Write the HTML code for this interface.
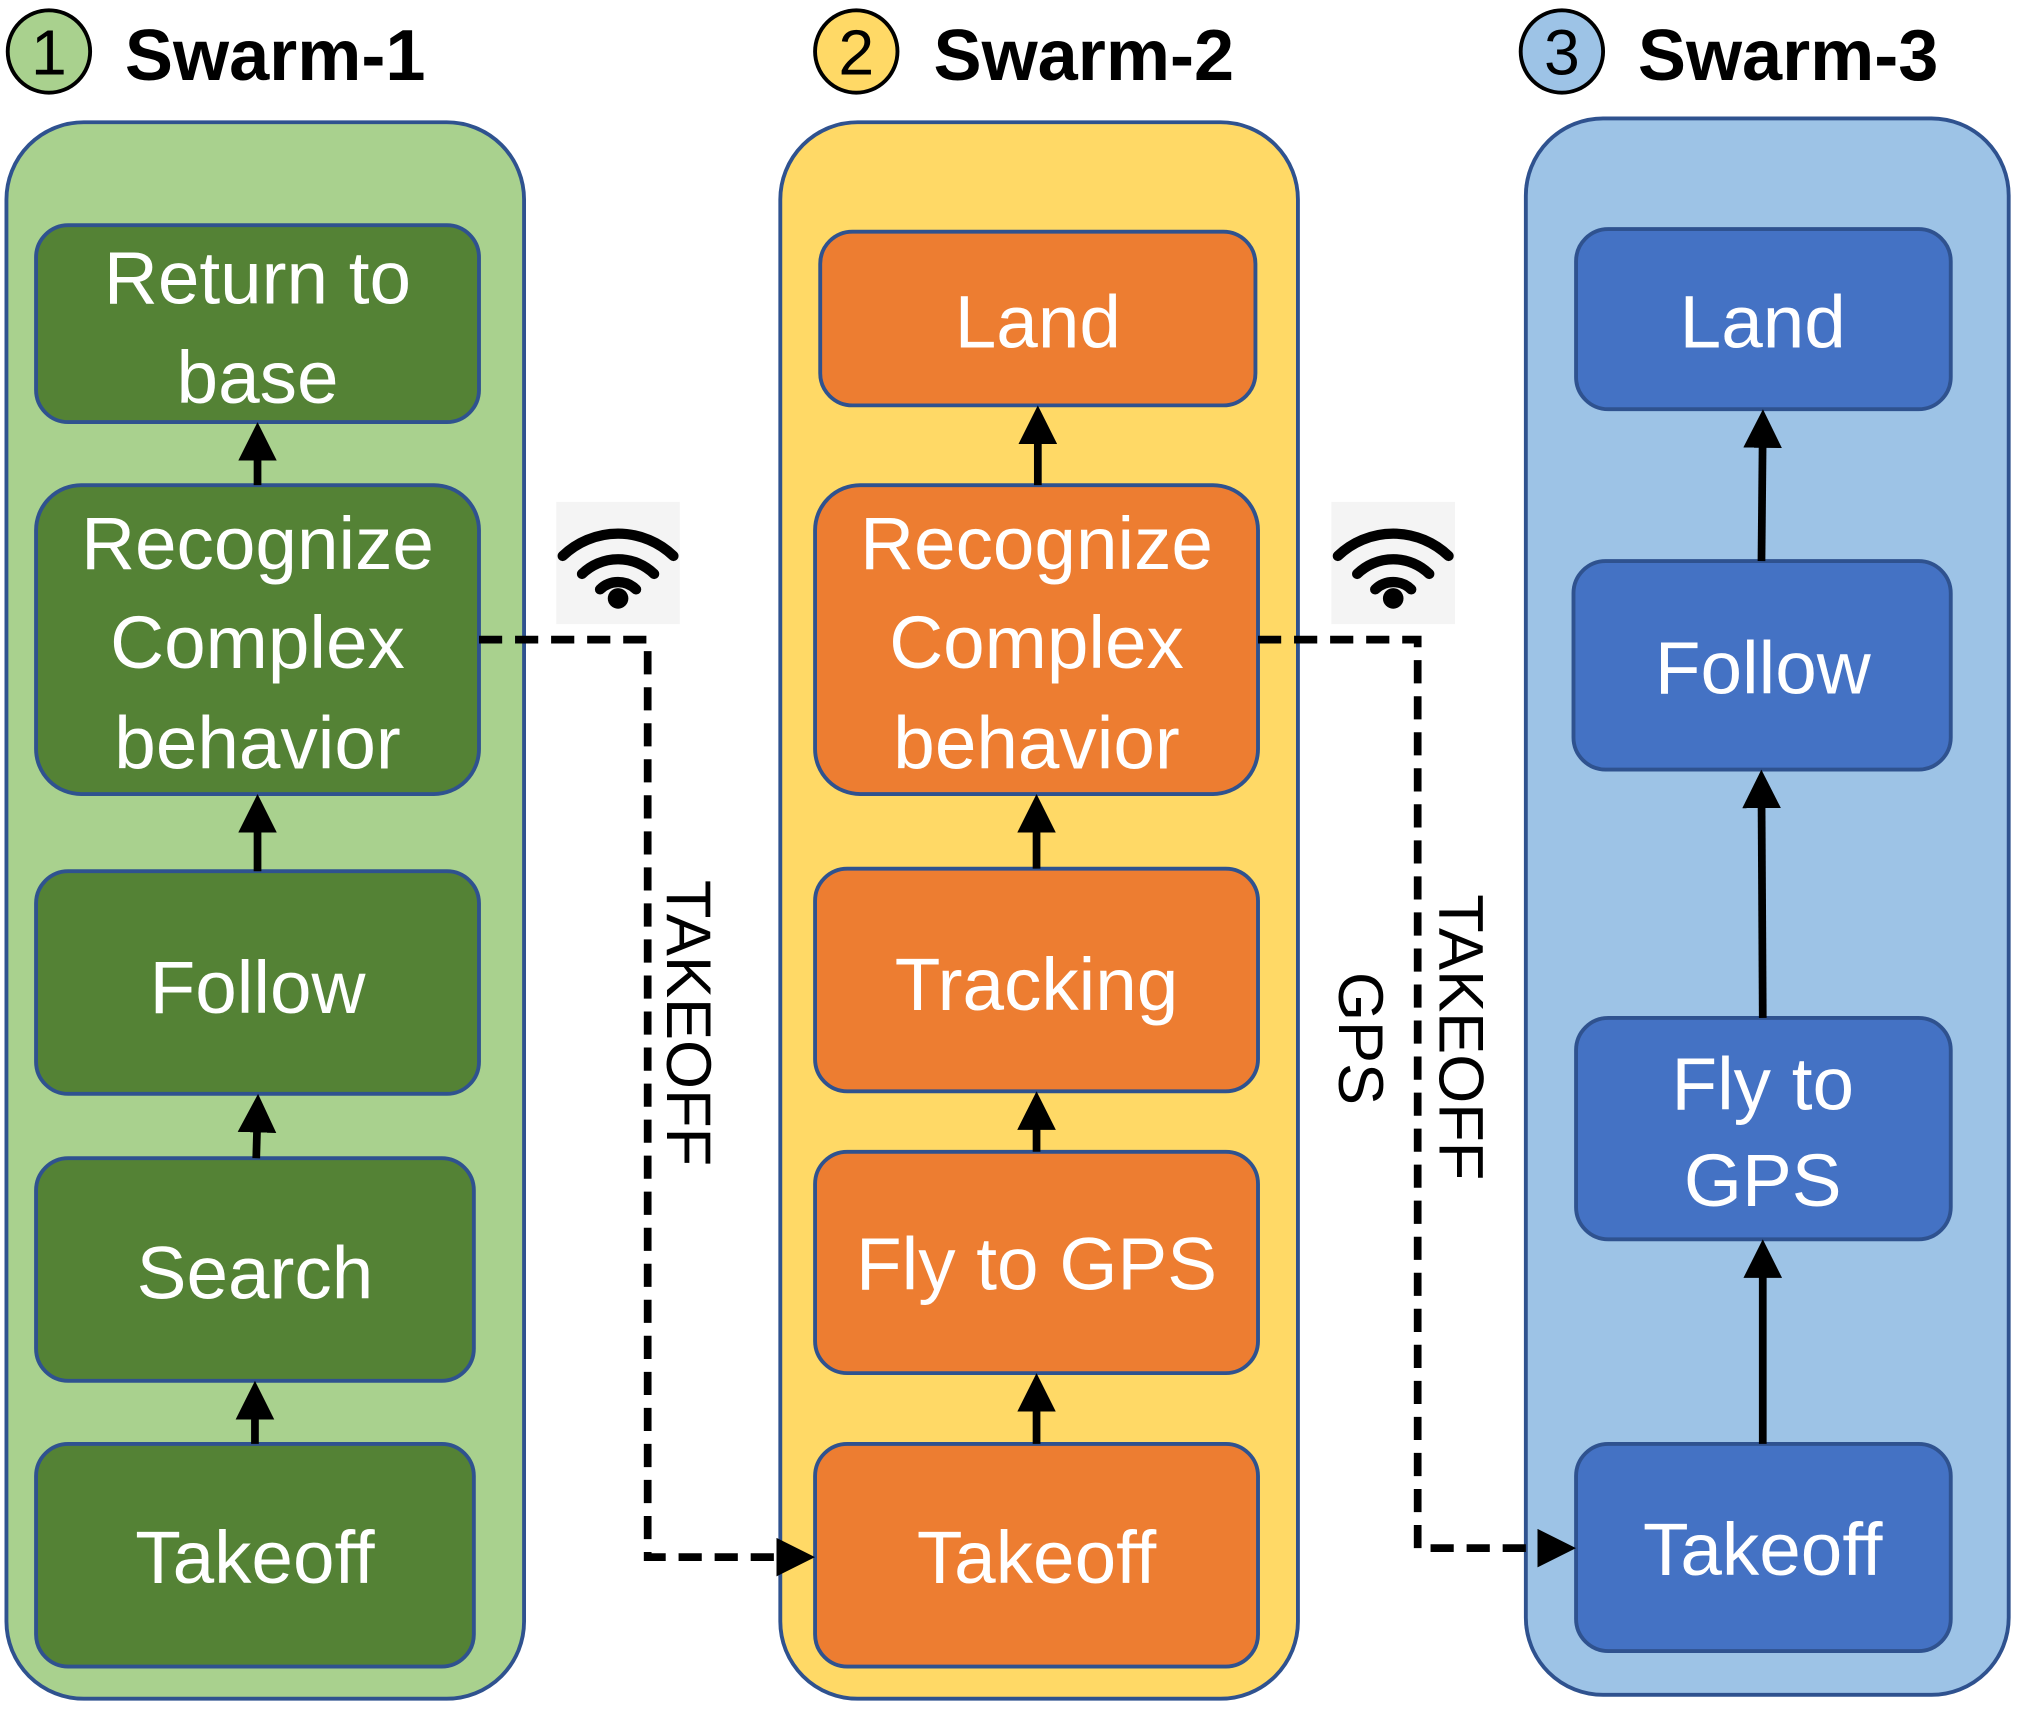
<!DOCTYPE html>
<html><head><meta charset="utf-8"><style>
html,body{margin:0;padding:0;background:#fff;}
svg{display:block;}
text{font-family:"Liberation Sans",sans-serif;}
.w{fill:#fff;font-size:58px;text-anchor:middle;}
.t{fill:#000;font-size:56px;font-weight:bold;}
.n{fill:#000;font-size:49px;text-anchor:middle;}
</style></head><body>
<svg width="2019" height="1709" viewBox="0 0 1568 1328" preserveAspectRatio="none" xmlns="http://www.w3.org/2000/svg">
<defs>
<marker id="ah" markerWidth="5" markerHeight="5" refX="2.5" refY="2.5" orient="auto" markerUnits="strokeWidth"><path d="M0,0 L5,2.5 L0,5 z" fill="#000"/></marker>
</defs>
<rect x="5" y="95" width="402" height="1225" rx="60" fill="#a9d18e" stroke="#2f528f" stroke-width="3"/>
<rect x="606" y="95" width="402" height="1225" rx="60" fill="#ffd966" stroke="#2f528f" stroke-width="3"/>
<rect x="1185" y="92" width="375" height="1225" rx="60" fill="#9dc3e6" stroke="#2f528f" stroke-width="3"/>
<circle cx="38" cy="40" r="32" fill="#a9d18e" stroke="#000" stroke-width="3"/>
<text x="38" y="58" class="n" style="font-size:50px">1</text>
<text x="97" y="62" class="t">Swarm-1</text>
<circle cx="665" cy="40" r="32" fill="#ffd966" stroke="#000" stroke-width="3"/>
<text x="665" y="58" class="n" style="font-size:50px">2</text>
<text x="725" y="62" class="t">Swarm-2</text>
<circle cx="1213" cy="40" r="32" fill="#9dc3e6" stroke="#000" stroke-width="3"/>
<text x="1213" y="58" class="n" style="font-size:50px">3</text>
<text x="1272" y="62" class="t">Swarm-3</text>

<g fill="#548235" stroke="#2f528f" stroke-width="3">
<rect x="28" y="175" width="344" height="153" rx="25"/>
<rect x="28" y="377" width="344" height="240" rx="35"/>
<rect x="28" y="677" width="344" height="173" rx="25"/>
<rect x="28" y="900" width="340" height="173" rx="25"/>
<rect x="28" y="1122" width="340" height="173" rx="25"/>
</g>
<text x="200" y="236" class="w">Return to</text>
<text x="200" y="313" class="w">base</text>
<text x="200" y="442" class="w">Recognize</text>
<text x="200" y="519" class="w">Complex</text>
<text x="200" y="597" class="w">behavior</text>
<text x="200" y="787" class="w">Follow</text>
<text x="198" y="1009" class="w">Search</text>
<text x="198" y="1230" class="w">Takeoff</text>

<g fill="#ed7d31" stroke="#2f528f" stroke-width="3">
<rect x="637" y="180" width="338" height="135" rx="25"/>
<rect x="633" y="377" width="344" height="240" rx="35"/>
<rect x="633" y="675" width="344" height="173" rx="25"/>
<rect x="633" y="895" width="344" height="172" rx="25"/>
<rect x="633" y="1122" width="344" height="173" rx="25"/>
</g>
<text x="806" y="270" class="w">Land</text>
<text x="805" y="442" class="w">Recognize</text>
<text x="805" y="519" class="w">Complex</text>
<text x="805" y="597" class="w">behavior</text>
<text x="805" y="785" class="w">Tracking</text>
<text x="805" y="1002" class="w">Fly to GPS</text>
<text x="805" y="1230" class="w">Takeoff</text>

<g fill="#4472c4" stroke="#2f528f" stroke-width="3">
<rect x="1224" y="178" width="291" height="140" rx="25"/>
<rect x="1222" y="436" width="293" height="162" rx="25"/>
<rect x="1224" y="791" width="291" height="172" rx="25"/>
<rect x="1224" y="1122" width="291" height="161" rx="25"/>
</g>
<text x="1369" y="270" class="w">Land</text>
<text x="1369" y="539" class="w">Follow</text>
<text x="1369" y="862" class="w">Fly to</text>
<text x="1369" y="937" class="w">GPS</text>
<text x="1369" y="1224" class="w">Takeoff</text>

<g stroke="#000" stroke-width="6" marker-end="url(#ah)">
<line x1="200" y1="377" x2="200" y2="343"/>
<line x1="200" y1="677" x2="200" y2="632"/>
<line x1="199" y1="900" x2="200" y2="865"/>
<line x1="198" y1="1122" x2="198" y2="1088"/>
<line x1="806" y1="377" x2="806" y2="330"/>
<line x1="805" y1="675" x2="805" y2="632"/>
<line x1="805" y1="895" x2="805" y2="863"/>
<line x1="805" y1="1122" x2="805" y2="1082"/>
<line x1="1368" y1="436" x2="1369" y2="333"/>
<line x1="1369" y1="791" x2="1368" y2="613"/>
<line x1="1369" y1="1122" x2="1369" y2="978"/>
</g>

<g fill="none" stroke="#000" stroke-width="6" stroke-dasharray="18 10">
<polyline points="372,497 503,497 503,1210 618,1210" marker-end="url(#ah)"/>
<polyline points="977,497 1101,497 1101,1203 1209,1203" marker-end="url(#ah)"/>
</g>

<g>
<rect x="432" y="390" width="96" height="95" fill="#f4f4f4"/>
<rect x="1034" y="390" width="96" height="95" fill="#f4f4f4"/>
<g fill="none" stroke="#000" stroke-width="8" stroke-linecap="round">
<path d="M437,432 A62,62 0 0 1 523,432"/>
<path d="M452,446 A40,40 0 0 1 508,446"/>
<path d="M466,458 A20,20 0 0 1 494,458"/>
<path d="M1039,432 A62,62 0 0 1 1125,432"/>
<path d="M1054,446 A40,40 0 0 1 1110,446"/>
<path d="M1068,458 A20,20 0 0 1 1096,458"/>
</g>
<circle cx="480" cy="465" r="8" fill="#000"/>
<circle cx="1082" cy="465" r="8" fill="#000"/>
</g>

<text transform="translate(518,795) rotate(90)" class="n">TAKEOFF</text>
<text transform="translate(1118,806) rotate(90)" class="n">TAKEOFF</text>
<text transform="translate(1040,807) rotate(90)" class="n">GPS</text>
</svg>
</body></html>
